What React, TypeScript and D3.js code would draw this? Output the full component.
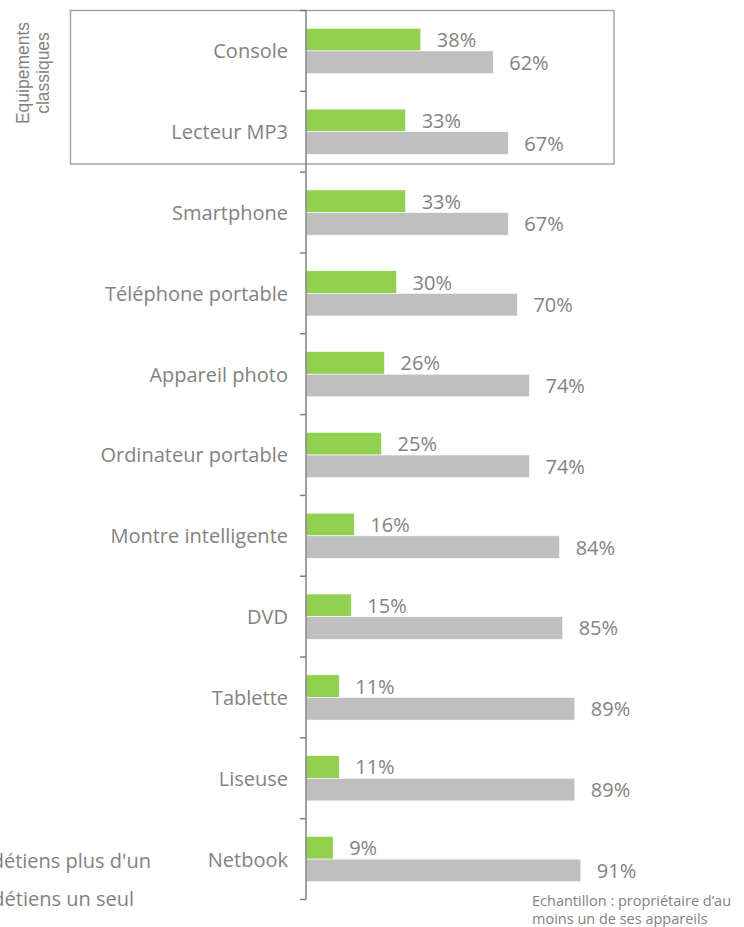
import React from "react";
import * as d3 from "d3";

const categories = [
  "Console",
  "Lecteur MP3",
  "Smartphone",
  "Téléphone portable",
  "Appareil photo",
  "Ordinateur portable",
  "Montre intelligente",
  "DVD",
  "Tablette",
  "Liseuse",
  "Netbook",
];
const plusDun = [38, 33, 33, 30, 26, 25, 16, 15, 11, 11, 9];
const unSeul = [62, 67, 67, 70, 74, 74, 84, 85, 89, 89, 91];
const seriesKeys = ["plus", "seul"];
const seriesNames = ["détiens plus d'un", "détiens un seul"];
const groupLabel = ["Equipements", "classiques"];
const noteLines = ["Echantillon : propriétaire d’au", "moins un de ses appareils"];

const W = 744;
const H = 927;
const FONT = "'Open Sans', 'DejaVu Sans', sans-serif";
const TXT = "#828282";
const GREEN = "#92D050";
const GRAY = "#BFBFBF";

export default function App() {
  const x0 = 306;
  const x = d3.scaleLinear().domain([0, 100]).range([x0, x0 + 302]);
  const y = d3.scaleBand<string>().domain(categories).range([10.5, 899.5]).padding(0);
  const bw = y.bandwidth();
  const ys = d3.scaleBand<string>().domain(seriesKeys).range([bw * 0.22, bw * 0.78]).padding(0);
  const bh = ys.bandwidth();
  const values = [plusDun, unSeul];
  const colors = [GREEN, GRAY];
  const boundaries = categories.map((c) => y(c)!).concat([y.range()[1]]);

  return (
    <svg
      width={W}
      height={H}
      style={{ position: "absolute", left: 0, top: 0, background: "#fff" }}
      fontFamily={FONT}
    >
      {/* group box */}
      <rect x={70.5} y={10.5} width={543.5} height={153.5} fill="none" stroke="#A6A6A6" strokeWidth={1.5} />
      {groupLabel.map((t, i) => (
        <text
          key={t}
          transform={`translate(${29 + i * 19.5},73) rotate(-90)`}
          textAnchor="middle"
          fontSize={17.5}
          fontFamily="'Liberation Sans', Arial, sans-serif"
          fill={TXT}
        >
          {t}
        </text>
      ))}

      {/* bars */}
      {categories.map((c, i) => (
        <g key={c} transform={`translate(0,${y(c)})`}>
          {seriesKeys.map((k, s) => {
            const v = values[s][i];
            const by = ys(k)!;
            return (
              <g key={k}>
                <rect
                  x={x(0)}
                  y={by}
                  width={x(v) - x(0)}
                  height={bh}
                  fill={colors[s]}
                  stroke="#fff"
                  strokeWidth={0.6}
                />
                <text
                  x={x(v) + 16}
                  y={by + bh / 2}
                  dominantBaseline="central"
                  fontSize={20}
                  fill={TXT}
                >
                  {v}%
                </text>
              </g>
            );
          })}
          <text
            x={288}
            y={bw / 2}
            textAnchor="end"
            dominantBaseline="central"
            fontSize={20}
            fill={TXT}
          >
            {c}
          </text>
        </g>
      ))}

      {/* axis */}
      <line x1={x0} x2={x0} y1={y.range()[0]} y2={y.range()[1]} stroke="#808080" strokeWidth={1.5} />
      {boundaries.map((b, i) => (
        <line key={i} x1={x0 - 6} x2={x0} y1={b} y2={b} stroke="#808080" strokeWidth={1.5} />
      ))}

      {/* legend (cut at left, as in the reference) */}
      {seriesNames.map((n, i) => (
        <text
          key={n}
          x={i === 0 ? 151 : 134}
          y={860 + i * 38}
          textAnchor="end"
          dominantBaseline="central"
          fontSize={20}
          fill={TXT}
        >
          {n}
        </text>
      ))}

      {/* note */}
      {noteLines.map((t, i) => (
        <text key={t} x={532} y={906 + i * 17.5} fontSize={14.5} fill={TXT}>
          {t}
        </text>
      ))}
    </svg>
  );
}
